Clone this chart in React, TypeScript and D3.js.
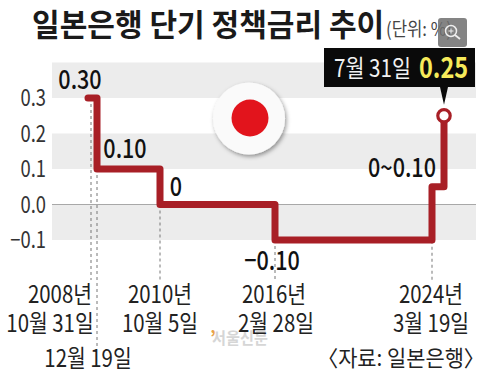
import React from "react";
import * as d3 from "d3";

const FONT = "'Noto Sans CJK KR','Noto Sans',sans-serif";
const yTicks = [0.3, 0.2, 0.1, 0.0, -0.1];
const yTickLabels = ["0.3", "0.2", "0.1", "0.0", "−0.1"];
const bandRanges = [[0.3, 0.4], [0.1, 0.2], [-0.1, 0]];
const stepDates = ["2008-10-31", "2008-12-19", "2010-10-05", "2016-02-28", "2024-03-19", "2024-07-31"];
const stepRates = [0.3, 0.1, 0, -0.1, 0.05, 0.25];
const dashBottoms = [0, 1, 0, 0, 0];
const xAnchors = [88, 97, 160, 275, 432, 444];
const rateLabels = ["0.30", "0.10", "0", "−0.10", "0~0.10"];

const parse = d3.timeParse("%Y-%m-%d");
const dates = stepDates.map((d) => parse(d) as Date);
const x = d3.scaleTime<number>().domain(dates).range(xAnchors);
const y = d3.scaleLinear().domain([0, 0.3]).range([204.5, 98]);

function T({ x, y, s, size = 24, sx = 0.85, anchor = "middle", fill = "#222", weight = 400 }: any) {
  return (
    <text transform={`translate(${x},${y}) scale(${sx},1)`} textAnchor={anchor} fontSize={size} fontWeight={weight}
      fill={fill} fontFamily={FONT}>{s}</text>
  );
}

export default function App() {
  const pts: [number, number][] = dates.map((d, i) => [x(d), y(stepRates[i])]);
  const step = d3.line().curve(d3.curveStepAfter)(pts) as string;
  const last = pts[pts.length - 1];
  const dashes = dates.slice(0, 5);
  return (
    <svg width={484} height={378} style={{ position: "absolute", left: 0, top: 0, background: "#fff" }}>
      <defs>
        <filter id="sh" x="-30%" y="-30%" width="170%" height="170%">
          <feDropShadow dx="1.5" dy="2" stdDeviation="2.2" floodColor="#000" floodOpacity="0.4" />
        </filter>
      </defs>
      <T x={32} y={36} s="일본은행 단기 정책금리 추이" size={31} sx={0.97} anchor="start" fill="#1a1a1a" weight={700} />
      <T x={386} y={36} s="(단위: %)" size={19} sx={0.88} anchor="start" fill="#444" />

      {bandRanges.map(([a, b]) => (
        <rect key={a} x={52} width={424} y={y(b)} height={y(a) - y(b)} fill="#ececec" />
      ))}
      <line x1={52} x2={476} y1={y(0)} y2={y(0)} stroke="#a8a8a8" strokeWidth={1} />

      {yTicks.map((t, i) => (
        <T key={t} x={46} y={y(t) + 8} s={yTickLabels[i]} size={23} sx={0.8} anchor="end" fill="#333" />
      ))}

      {dashes.map((d, i) => (
        <line key={i} x1={x(d) + (i === 0 ? 3 : 0)} x2={x(d) + (i === 0 ? 3 : 0)} y1={y(stepRates[i])}
          y2={dashBottoms[i] ? 347 : 280} stroke="#777" strokeWidth={1} strokeDasharray="3 3" />
      ))}

      <circle cx={249} cy={118.5} r={36} fill="#fafafa" filter="url(#sh)" />
      <circle cx={250} cy={118} r={18.5} fill="#e2141c" />

      <path d={step} fill="none" stroke="#a81f26" strokeWidth={7} strokeLinejoin="round" strokeLinecap="round" />
      <circle cx={last[0]} cy={last[1]} r={6.2} fill="#fff" stroke="#a81f26" strokeWidth={3.2} />

      <T x={80} y={89} s={rateLabels[0]} size={26} sx={0.83} fill="#111" weight={500} />
      <T x={125} y={158} s={rateLabels[1]} size={26} sx={0.83} fill="#111" weight={500} />
      <T x={176} y={196} s={rateLabels[2]} size={26} sx={0.83} fill="#111" weight={500} />
      <T x={272} y={270} s={rateLabels[3]} size={26} sx={0.83} fill="#111" weight={500} />
      <T x={402} y={177} s={rateLabels[4]} size={26} sx={0.83} fill="#111" weight={500} />

      <rect x={324} y={48} width={151} height={39} fill="#0a0a0a" />
      <path d={`M${last[0] - 4},87 L${last[0] + 4},87 L${last[0]},${last[1] - 11} Z`} fill="#0a0a0a" />
      <T x={334} y={77} s="7월 31일" size={24} sx={0.86} anchor="start" fill="#f2f2f2" />
      <T x={419} y={78} s="0.25" size={29} sx={0.81} anchor="start" fill="#f6ea5a" weight={700} />

      <T x={210} y={344} s="’" size={18} sx={1} anchor="start" fill="#e8a24a" weight={700} />
      <T x={212} y={344} s="서울신문" size={16} sx={0.95} anchor="start" fill="#d6d6d6" weight={700} />

      <T x={60} y={303} s="2008년" />
      <T x={50} y={332} s="10월 31일" />
      <T x={88} y={367} s="12월 19일" />
      <T x={160} y={303} s="2010년" />
      <T x={160} y={332} s="10월 5일" />
      <T x={274} y={303} s="2016년" />
      <T x={276} y={332} s="2월 28일" />
      <T x={431} y={303} s="2024년" />
      <T x={431} y={332} s="3월 19일" />
      <T x={401} y={366} s="〈자료: 일본은행〉" size={22} sx={0.95} />

      <rect x={438} y={18} width={29} height={29} rx={3} fill="#6f6f6f" fillOpacity={0.85} />
      <circle cx={451} cy={31} r={5.5} fill="none" stroke="#eee" strokeWidth={1.5} />
      <line x1={455} y1={35} x2={460} y2={39} stroke="#eee" strokeWidth={1.8} />
      <path d="M448.5,31 h5 M451,28.5 v5" stroke="#eee" strokeWidth={1} />
    </svg>
  );
}
